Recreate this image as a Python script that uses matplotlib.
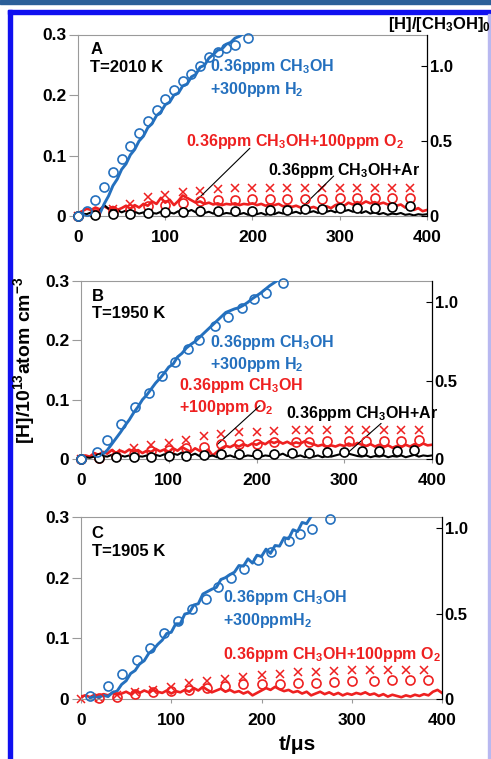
import numpy as np
import matplotlib
matplotlib.use("Agg")
import matplotlib.pyplot as plt
from matplotlib.patches import Rectangle

plt.rcParams['font.family'] = ['Liberation Sans', 'DejaVu Sans']
plt.rcParams['font.weight'] = 'bold'
plt.rcParams['mathtext.fontset'] = 'custom'
plt.rcParams['mathtext.rm'] = 'Liberation Sans:bold'
plt.rcParams['mathtext.it'] = 'Liberation Sans:bold'
plt.rcParams['mathtext.bf'] = 'Liberation Sans:bold'
plt.rcParams['mathtext.default'] = 'rm'

BLUE = '#2470BE'
RED = '#EE2020'
GRAY = '#9a9a9a'

# ---------------- data (t in microseconds, [H] in 1e13 atom cm^-3) ----------------
# Panel A, T = 2010 K
a_blue_t0 = 25
a_blue = [0.004, 0.02, 0.033, 0.05, 0.061, 0.077, 0.086, 0.101, 0.11, 0.124, 0.132, 0.146,
          0.153, 0.166, 0.172, 0.184, 0.188, 0.2, 0.203, 0.215, 0.218, 0.23, 0.234, 0.246,
          0.249, 0.261, 0.267, 0.274, 0.276, 0.284, 0.287, 0.294, 0.297, 0.302]
a_red = [0.005, 0.008, 0.012, 0.01, 0.014, 0.011, 0.016, 0.012, 0.015, 0.01, 0.013, 0.017,
         0.012, 0.018, 0.014, 0.02, 0.017, 0.024, 0.02, 0.03, 0.022, 0.027, 0.018, 0.025,
         0.034, 0.03, 0.026, 0.022, 0.024, 0.02, 0.022, 0.019, 0.021, 0.018, 0.02, 0.019,
         0.021, 0.018, 0.02, 0.019, 0.021, 0.018, 0.02, 0.017, 0.019, 0.018, 0.02, 0.016,
         0.018, 0.015, 0.017, 0.014, 0.016, 0.013, 0.015, 0.012, 0.014, 0.016, 0.013, 0.018,
         0.02, 0.017, 0.022, 0.019, 0.023, 0.02, 0.024, 0.021, 0.023, 0.02, 0.022, 0.019,
         0.021, 0.017, 0.019, 0.014, 0.016, 0.01, 0.013, 0.008, 0.01]
a_black = [0.002, 0.004, 0.003, 0.006, 0.005, 0.009, 0.018, 0.012, 0.008, 0.01, 0.006, 0.009,
           0.005, 0.007, 0.004, 0.006, 0.003, 0.005, 0.004, 0.007, 0.005, 0.006, 0.004, 0.008,
           0.005, 0.007, 0.01, 0.006, 0.009, 0.005, 0.007, 0.004, 0.006, 0.003, 0.005, 0.004,
           0.006, 0.003, 0.005, 0.002, 0.004, 0.003, 0.005, 0.002, 0.004, 0.003, 0.006, 0.004,
           0.008, 0.005, 0.007, 0.004, 0.009, 0.006, 0.008, 0.005, 0.01, 0.007, 0.009, 0.006,
           0.011, 0.008, 0.01, 0.007, 0.009, 0.005, 0.008, 0.004, 0.006, 0.003, 0.005, 0.002,
           0.004, 0.003, 0.005, 0.002, 0.003, 0.001, 0.003, 0.002, 0.003]
a_blue_circ_t = [0, 10, 20, 30, 40, 50, 60, 70, 80, 90, 100, 110, 120, 130, 140, 150, 160, 170, 180, 195]
a_blue_circ = [0, 0.009, 0.026, 0.048, 0.072, 0.094, 0.116, 0.138, 0.157, 0.176, 0.193, 0.209,
               0.223, 0.234, 0.248, 0.262, 0.271, 0.278, 0.283, 0.294]
a_mod_t = [0, 20, 40, 60, 80, 100, 120, 140, 160, 180, 200, 220, 240, 260, 280, 300, 320, 340, 360, 380]
a_red_x = [0.0, 0.005, 0.012, 0.02, 0.032, 0.035, 0.039, 0.042, 0.044, 0.046, 0.046, 0.047,
           0.047, 0.047, 0.047, 0.047, 0.047, 0.047, 0.047, 0.047]
a_red_circ = [0, 0.003, 0.008, 0.012, 0.016, 0.019, 0.021, 0.024, 0.026, 0.027, 0.0275, 0.028,
              0.028, 0.028, 0.028, 0.029, 0.029, 0.029, 0.029, 0.029]
a_black_circ = [0, 0.002, 0.003, 0.004, 0.0055, 0.006, 0.0065, 0.0075, 0.008, 0.009, 0.009,
                0.01, 0.01, 0.011, 0.012, 0.013, 0.013, 0.014, 0.015, 0.017]

# Panel B, T = 1950 K
b_blue_t0 = 20
b_blue = [0.0, 0.008, 0.015, 0.025, 0.035, 0.045, 0.056, 0.066, 0.078, 0.088, 0.1, 0.108,
          0.118, 0.128, 0.136, 0.145, 0.155, 0.16, 0.172, 0.178, 0.187, 0.193, 0.198, 0.205,
          0.212, 0.219, 0.226, 0.233, 0.24, 0.247, 0.25, 0.253, 0.255, 0.259, 0.264, 0.27,
          0.275, 0.28, 0.286, 0.292, 0.297, 0.302]
b_red = [0.002, 0.006, 0.004, 0.01, 0.007, 0.012, 0.009, 0.015, 0.01, 0.014,
         0.011, 0.016, 0.012, 0.015, 0.01, 0.014, 0.012, 0.017, 0.013, 0.016,
         0.012, 0.018, 0.014, 0.02, 0.016, 0.012, 0.018, 0.014, 0.01, 0.016,
         0.006, 0.012, 0.018, 0.022, 0.02, 0.024, 0.021, 0.025, 0.022, 0.026,
         0.024, 0.028, 0.025, 0.03, 0.027, 0.03, 0.026, 0.029, 0.025, 0.028,
         0.026, 0.03, 0.027, 0.025, 0.022, 0.024, 0.02, 0.023, 0.021, 0.024,
         0.022, 0.026, 0.023, 0.027, 0.024, 0.022, 0.025, 0.021, 0.024, 0.02,
         0.023, 0.019, 0.022, 0.02, 0.024, 0.021, 0.025, 0.022, 0.026, 0.023, 0.024]
b_black = [0.001, 0.003, 0.002, 0.004, 0.003, 0.005, 0.004, 0.007, 0.005, 0.006,
           0.004, 0.006, 0.003, 0.005, 0.004, 0.006, 0.004, 0.007, 0.005, 0.008,
           0.006, 0.009, 0.007, 0.011, 0.008, 0.006, 0.009, 0.005, 0.007, 0.004,
           0.006, 0.003, 0.005, 0.004, 0.006, 0.003, 0.005, 0.004, 0.006, 0.005,
           0.007, 0.004, 0.006, 0.005, 0.008, 0.006, 0.009, 0.005, 0.007, 0.004,
           0.006, 0.003, 0.005, 0.004, 0.006, 0.003, 0.005, 0.004, 0.006, 0.008,
           0.006, 0.009, 0.007, 0.005, 0.004, 0.006, 0.003, 0.005, 0.004, 0.006,
           0.003, 0.005, 0.004, 0.006, 0.003, 0.005, 0.007, 0.004, 0.006, 0.005, 0.006]
b_blue_circ_t = [0, 18, 30, 46, 62, 77, 92, 107, 122, 135, 153, 168, 183, 197, 211, 230]
b_blue_circ = [0, 0.012, 0.032, 0.059, 0.088, 0.112, 0.14, 0.163, 0.185, 0.2, 0.224, 0.239,
               0.255, 0.269, 0.279, 0.296]
b_mod_t = [0, 20, 40, 60, 80, 100, 120, 140, 160, 180, 200, 220, 245, 260, 280, 305, 325, 345, 365, 385]
b_red_x = [0, 0.004, 0.01, 0.018, 0.024, 0.027, 0.032, 0.038, 0.042, 0.045, 0.046, 0.047,
           0.049, 0.049, 0.049, 0.049, 0.049, 0.049, 0.049, 0.049]
b_red_circ = [0, 0.001, 0.005, 0.009, 0.013, 0.016, 0.018, 0.021, 0.026, 0.025, 0.026, 0.029,
              0.029, 0.029, 0.03, 0.03, 0.03, 0.031, 0.031, 0.032]
b_black_circ_t = [0, 20, 40, 60, 80, 100, 120, 140, 160, 180, 200, 220, 240, 260, 280, 300, 320, 340, 360, 380]
b_black_circ = [0, 0.002, 0.004, 0.004, 0.004, 0.005, 0.005, 0.007, 0.008, 0.008, 0.009,
                0.009, 0.01, 0.01, 0.011, 0.012, 0.013, 0.013, 0.014, 0.015]

# Panel C, T = 1905 K
c_blue_t0 = 10
c_blue = [0.002, 0.004, 0.003, 0.006, 0.004, 0.011, 0.013, 0.024, 0.03, 0.042,
          0.047, 0.058, 0.063, 0.075, 0.081, 0.09, 0.097, 0.108, 0.11, 0.124,
          0.124, 0.14, 0.142, 0.155, 0.157, 0.173, 0.177, 0.181, 0.184, 0.197,
          0.2, 0.205, 0.209, 0.22, 0.219, 0.231, 0.224, 0.237, 0.235, 0.247,
          0.24, 0.253, 0.252, 0.266, 0.264, 0.279, 0.276, 0.291, 0.289, 0.301]
c_red = [0.004, 0.006, 0.003, 0.007, 0.005, 0.008, 0.006, 0.01, 0.007, 0.009,
         0.012, 0.008, 0.013, 0.01, 0.014, 0.011, 0.015, 0.012, 0.01, 0.014,
         0.009, 0.013, 0.011, 0.015, 0.012, 0.018, 0.014, 0.02, 0.015, 0.011,
         0.014, 0.017, 0.012, 0.015, 0.011, 0.013, 0.009, 0.012, 0.006, 0.01,
         0.014, 0.018, 0.015, 0.02, 0.016, 0.013, 0.015, 0.011, 0.013, 0.009,
         0.012, 0.006, 0.009, 0.012, 0.008, 0.011, 0.007, 0.01, 0.006, 0.009,
         0.007, 0.01, 0.008, 0.011, 0.007, 0.009, 0.005, 0.008, 0.004, 0.007,
         0.005, 0.003, 0.006, 0.004, 0.007, 0.005, 0.008, 0.006, 0.012, 0.015, 0.01]
c_blue_circ_t = [10, 30, 45, 62, 76, 92, 108, 123, 138, 152, 166, 181, 196, 210, 230, 243, 256, 276]
c_blue_circ = [0.005, 0.022, 0.042, 0.065, 0.084, 0.108, 0.129, 0.148, 0.165, 0.184, 0.2,
               0.215, 0.229, 0.243, 0.261, 0.272, 0.281, 0.297]
c_red_x_t = [0, 20, 40, 60, 80, 100, 120, 140, 160, 180, 200, 220, 240, 260, 280, 300, 320, 340, 360, 380]
c_red_x = [0, 0.002, 0.006, 0.011, 0.015, 0.019, 0.026, 0.029, 0.033, 0.037, 0.04, 0.042,
           0.044, 0.045, 0.046, 0.047, 0.048, 0.048, 0.048, 0.048]
c_red_circ_t = [20, 40, 60, 80, 100, 120, 140, 160, 180, 200, 220, 240, 260, 280, 300, 325, 345, 365, 385]
c_red_circ = [0.002, 0.004, 0.008, 0.011, 0.013, 0.015, 0.018, 0.021, 0.024, 0.024, 0.025,
              0.026, 0.027, 0.028, 0.029, 0.03, 0.031, 0.031, 0.032]

# right-axis top value ([H]/[CH3OH]0 at [H] = 0.3)
ratio_top = {'A': 1.21, 'B': 1.136, 'C': 1.066}

W, H = 491, 759
fig = plt.figure(figsize=(W / 100, H / 100), dpi=100)

# page decoration: blue frame
fig.patches.append(Rectangle((0, 1 - 4 / H), 1, 4 / H, transform=fig.transFigure,
                             color='#2b5f99', zorder=0))
fig.patches.append(Rectangle((8 / W, 0), 4 / W, 1 - 10 / H, transform=fig.transFigure,
                             color='#1010f0', zorder=0))
fig.patches.append(Rectangle((8 / W, 1 - 14 / H), 1, 4 / H, transform=fig.transFigure,
                             color='#1010f0', zorder=0))
fig.patches.append(Rectangle((488 / W, 0), 1.5 / W, 1 - 14 / H, transform=fig.transFigure,
                             color='#b8b8f0', zorder=0))


def px_axes(left, right, top, bottom):
    return fig.add_axes([left / W, 1 - bottom / H, (right - left) / W, (bottom - top) / H])


def setup(ax, key):
    ax.set_xlim(0, 400)
    ax.set_ylim(0, 0.3)
    ax.set_xticks([0, 100, 200, 300, 400])
    ax.set_yticks([0, 0.1, 0.2, 0.3])
    ax.set_yticklabels(['0', '0.1', '0.2', '0.3'])
    for s in ['left', 'top', 'bottom']:
        ax.spines[s].set_color(GRAY)
        ax.spines[s].set_linewidth(0.8)
    ax.spines['right'].set_visible(False)
    ax.tick_params(axis='y', direction='out', length=6.5, color=GRAY, labelsize=12.5, pad=2)
    ax.tick_params(axis='x', direction='out', length=3, color=GRAY, labelsize=12.5, pad=7)
    ax2 = ax.twinx()
    ax2.set_ylim(0, ratio_top[key])
    ax2.set_yticks([0, 0.5, 1.0])
    ax2.set_yticklabels(['0', '0.5', '1.0'])
    for s in ['left', 'top', 'bottom']:
        ax2.spines[s].set_visible(False)
    ax2.spines['right'].set_color('black')
    ax2.spines['right'].set_linewidth(0.9)
    ax2.tick_params(axis='y', direction='in', length=4.5, color='black', labelsize=12, pad=2)
    for lab in ax.get_xticklabels() + ax.get_yticklabels() + ax2.get_yticklabels():
        lab.set_fontweight('bold')


def trace(ax, t0, vals, color, lw=1.9):
    t = t0 + 5 * np.arange(len(vals))
    ax.plot(t, vals, color=color, lw=lw, zorder=3)


def circles(ax, t, v, color, face='none'):
    ax.plot(t, v, 'o', ms=6.5, mfc=face, mec=color, mew=1.2, ls='none', zorder=4, clip_on=False)


def crosses(ax, t, v, color):
    ax.plot(t, v, 'x', ms=6, color=color, mew=1.1, ls='none', zorder=2, clip_on=False)


def leader(ax, xy, xytext):
    ax.annotate('', xy=xy, xytext=xytext,
                arrowprops=dict(arrowstyle='-', color='black', lw=0.8, shrinkA=0, shrinkB=0))


txt = dict(fontsize=11.5, fontweight='bold', va='center', ha='left')
hdr = dict(fontsize=12, fontweight='bold', va='top', linespacing=1.2)

# ---- Panel A ----
axA = px_axes(78, 427, 34.5, 216)
setup(axA, 'A')
crosses(axA, a_mod_t, a_red_x, RED)
circles(axA, a_mod_t, a_red_circ, RED)
trace(axA, 0, a_red, RED)
trace(axA, 0, a_black, 'black', lw=1.5)
trace(axA, a_blue_t0, a_blue, BLUE, lw=2.1)
circles(axA, a_mod_t, a_black_circ, 'black', face='white')
circles(axA, a_blue_circ_t, a_blue_circ, BLUE)
axA.text(14, 0.287, 'A\nT=2010 K', **hdr)
axA.text(151, 0.228, '0.36ppm CH$_3$OH\n+300ppm H$_2$', color=BLUE, linespacing=1.25, **txt)
axA.text(124, 0.123, '0.36ppm CH$_3$OH+100ppm O$_2$', color=RED, **txt)
axA.text(218, 0.076, '0.36ppm CH$_3$OH+Ar', color='black', **txt)
leader(axA, (136, 0.026), (197, 0.112))
leader(axA, (257, 0.015), (293, 0.066))

# ---- Panel B ----
axB = px_axes(81, 432, 281, 459)
setup(axB, 'B')
crosses(axB, b_mod_t, b_red_x, RED)
circles(axB, b_mod_t, b_red_circ, RED)
trace(axB, 0, b_red, RED)
trace(axB, 0, b_black, 'black', lw=1.5)
trace(axB, b_blue_t0, b_blue, BLUE, lw=2.1)
circles(axB, b_black_circ_t, b_black_circ, 'black', face='white')
circles(axB, b_blue_circ_t, b_blue_circ, BLUE)
axB.text(12, 0.287, 'B\nT=1950 K', **hdr)
axB.text(147, 0.178, '0.36ppm CH$_3$OH\n+300ppm H$_2$', color=BLUE, linespacing=1.25, **txt)
axB.text(112, 0.105, '0.36ppm CH$_3$OH\n+100ppm O$_2$', color=RED, linespacing=1.25, **txt)
axB.text(234, 0.077, '0.36ppm CH$_3$OH+Ar', color='black', **txt)
leader(axB, (155, 0.024), (204, 0.09))
leader(axB, (299, 0.004), (342, 0.06))

# ---- Panel C ----
axC = px_axes(81, 442, 517, 699)
setup(axC, 'C')
crosses(axC, c_red_x_t, c_red_x, RED)
circles(axC, c_red_circ_t, c_red_circ, RED)
trace(axC, 0, c_red, RED)
trace(axC, c_blue_t0, c_blue, BLUE, lw=2.1)
circles(axC, c_blue_circ_t, c_blue_circ, BLUE)
axC.text(12, 0.285, 'C\nT=1905 K', **hdr)
axC.text(157, 0.148, '0.36ppm CH$_3$OH\n+300ppmH$_2$', color=BLUE, linespacing=1.25, **txt)
axC.text(157, 0.074, '0.36ppm CH$_3$OH+100ppm O$_2$', color=RED, **txt)

# shared labels
fig.text(440 / W, 1 - 24 / H, '[H]/[CH$_3$OH]$_0$', fontsize=12, fontweight='bold',
         ha='center', va='center')
fig.text(24 / W, 1 - 360 / H, '[H]/10$^{13}$atom cm$^{-3}$', fontsize=14, fontweight='bold',
         rotation=90, ha='center', va='center')
fig.text(297 / W, 1 - 745 / H, 't/\u03bcs', fontsize=15, fontweight='bold',
         ha='center', va='center')

fig.savefig('out.png', dpi=100)
